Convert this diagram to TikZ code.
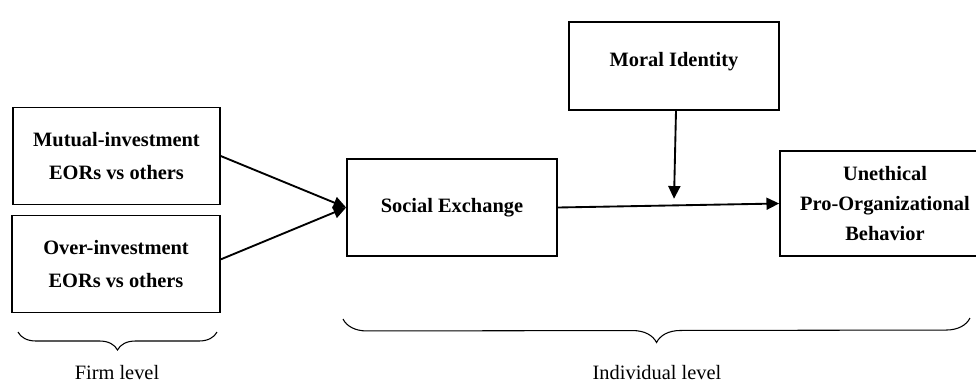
\documentclass[tikz,border=0pt]{standalone}
\usepackage{fontspec}
\setmainfont{Liberation Serif}
\usetikzlibrary{arrows.meta, decorations.pathreplacing, calc}
\tikzset{
    box/.style={draw, line width=1.3pt, rectangle, minimum width=157.5pt, minimum height=72.75pt, align=center, font=\fontsize{15.3}{24.75}\selectfont\bfseries},
    arrow/.style={line width=1.4pt, -{Triangle[length=9.5pt, width=9pt]}},
    level/.style={font=\fontsize{15.3}{18}\selectfont},
    brace/.style={decorate, line width=0.8pt, decoration={brace, mirror, amplitude=#1}}
}

\begin{document}
\begin{tikzpicture}[x=0.75pt, y=-0.75pt]
\useasboundingbox (0,0) rectangle (976,386);
\clip (0,0) rectangle (976,386);
\node[box, minimum width=155pt] (mutual) at (116.5,156) {Mutual-investment\\EORs vs others};
\node[box, minimum width=156pt] (over) at (116,264) {Over-investment\\EORs vs others};
\node[box] (social) at (452,207.5) {Social Exchange};
\node[box, minimum height=66pt, text depth=10pt] (moral) at (674,66) {Moral Identity};
\node[box, minimum height=78.75pt, font=\fontsize{15.3}{22.5}\selectfont\bfseries] (uneth) at (885,203.5) {Unethical\\Pro-Organizational\\Behavior};
\draw[arrow] (mutual.east) -- (social.west);
\draw[arrow] ([yshift=3.5pt]over.east) -- (social.west);
\draw[arrow] (social.east) -- (uneth.west);
\coordinate (modpt) at ($(social.east)!0.525!(uneth.west)$);
\draw[arrow] ([xshift=1.5pt]moral.south) -- ([yshift=5pt]modpt);
% level braces
\coordinate (firmL) at (18,332);
\coordinate (firmR) at (217,332);
\draw[brace=13.5pt] (firmL) -- (firmR);
\node[level] (firm) at (117,373) {Firm level};
\coordinate (indL) at (343,319);
\coordinate (indR) at (970,318);
\draw[brace=18pt] (indL) -- (indR);
\node[level] (indiv) at (657,373) {Individual level};
\end{tikzpicture}
\end{document}
